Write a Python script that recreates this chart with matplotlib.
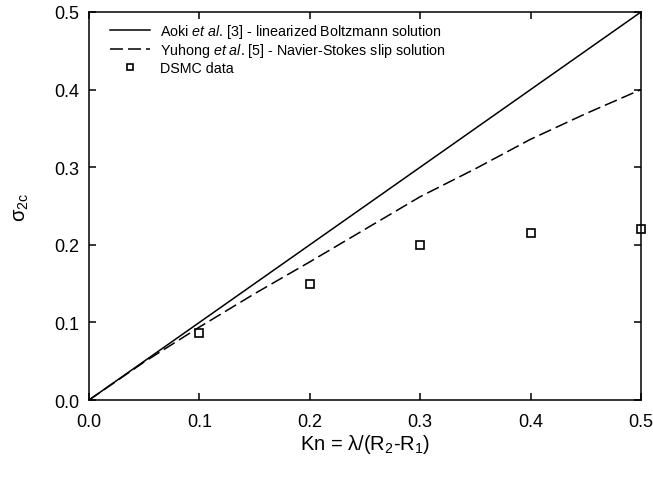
import numpy as np
from matplotlib import pyplot as plt

plt.rcParams['font.family'] = 'Liberation Sans'
plt.rcParams['mathtext.fontset'] = 'custom'
plt.rcParams['mathtext.rm'] = 'Liberation Sans'
plt.rcParams['mathtext.it'] = 'Liberation Sans:italic'

# Aoki et al. - linearized Boltzmann (straight line)
kn_aoki = [0.0, 0.5]
sigma_aoki = [0.0, 0.5]

# Yuhong et al. - Navier-Stokes slip solution
kn_ns = [0.0, 0.05, 0.1, 0.15, 0.2, 0.25, 0.3, 0.35, 0.4, 0.45, 0.5]
sigma_ns = [0.0, 0.049, 0.094, 0.137, 0.178, 0.22, 0.262, 0.298, 0.336, 0.369, 0.40]

# DSMC
kn_dsmc = [0.1, 0.2, 0.3, 0.4, 0.5]
sigma_dsmc = [0.086, 0.15, 0.20, 0.215, 0.22]

fig = plt.figure(figsize=(6.53, 4.81), dpi=100)
ax = fig.add_axes([0.1363, 0.1663, 0.8453, 0.8067])

ax.plot(kn_aoki, sigma_aoki, color='black', lw=1.1,
        label=r'Aoki $\it{et\ al}$. [3] - linearized Boltzmann solution')
ax.plot(kn_ns, sigma_ns, color='black', lw=1.1, dashes=(8.5, 3.3),
        label=r'Yuhong $\it{et\ al}$. [5] - Navier-Stokes slip solution')
ax.plot(kn_dsmc, sigma_dsmc, 's', mfc='none', mec='black', ms=5.5, mew=1.2,
        clip_on=False, label='DSMC data')

ax.set_xlim(0, 0.5)
ax.set_ylim(0, 0.5)
ax.set_xticks(np.arange(0, 0.51, 0.1))
ax.set_yticks(np.arange(0, 0.51, 0.1))
ax.xaxis.set_major_formatter(plt.FormatStrFormatter('%.1f'))
ax.yaxis.set_major_formatter(plt.FormatStrFormatter('%.1f'))
ax.tick_params(direction='in', top=True, right=True, length=5, width=1.1,
               labelsize=13)
ax.tick_params(axis='x', pad=9.5)
ax.tick_params(axis='y', pad=7)
for s in ax.spines.values():
    s.set_linewidth(1.1)

ax.set_xlabel('Kn = λ/(R$_2$-R$_1$)', fontsize=14.5, labelpad=1.5)
ax.set_ylabel('σ$_{\\mathrm{2c}}$', fontsize=14.5, labelpad=17)

ax.legend(loc='upper left', bbox_to_anchor=(0.028, 0.99), borderaxespad=0,
          frameon=False, fontsize=10.3, handlelength=2.8, handletextpad=0.7,
          labelspacing=0.12, markerscale=0.7)

fig.savefig('out.png', dpi=100)
